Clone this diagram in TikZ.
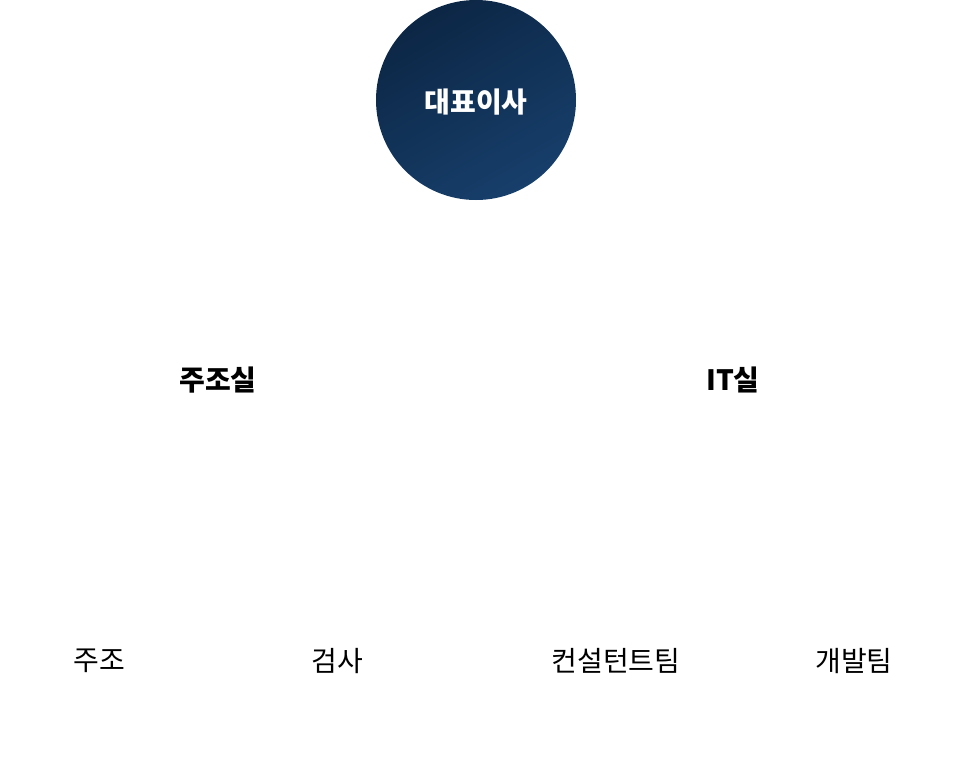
\documentclass[tikz,border=0pt]{standalone}
\usepackage{fontspec}
\usepackage{xcolor}
\setmainfont{Noto Sans CJK KR}
\definecolor{navytop}{HTML}{0C2645}
\definecolor{navybot}{HTML}{173F6B}

\tikzset{
    ceo/.style = {circle, minimum size = 200pt, inner sep = 0pt,
        shading = axis, top color = navytop, bottom color = navybot, shading angle = 30,
        text = white, font = \fontsize{28}{32}\selectfont\bfseries},
    dept/.style = {font = \fontsize{28}{32}\selectfont\bfseries, text = black},
    team/.style = {font = \fontsize{28}{32}\selectfont, text = black}
}

\begin{document}
\begin{tikzpicture}[x = 1pt, y = -1pt]
        \useasboundingbox (0,0) rectangle (954,761);

        \node[ceo] (ceo) at (476,100) {};
        \node[text = white, font = \fontsize{28}{32}\selectfont\bfseries] (ceolabel) at (476,102) {대표이사};

        \node[dept] (casting) at (218,380) {주조실};
        \node[dept] (it) at (733,380) {IT실};

        \node[team] (cast) at (99,661) {주조};
        \node[team] (inspect) at (337,661) {검사};
        \node[team] (consult) at (616,661) {컨설턴트팀};
        \node[team] (dev) at (854,661) {개발팀};

    \end{tikzpicture}
\end{document}
